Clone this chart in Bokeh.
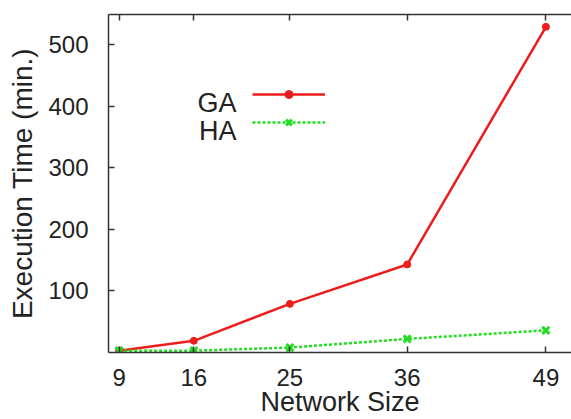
from bokeh.plotting import figure
from bokeh.models import (Range1d, FixedTicker, LinearAxis, Legend, LegendItem, Label)
from bokeh.embed import file_html
from bokeh.resources import INLINE

# ---- data ----
network_size = [9, 16, 25, 36, 49]
ga_time = [3, 19, 79, 143, 529]
ha_time = [3, 3, 8, 22, 36]
x_ticks = [9, 16, 25, 36, 49]
y_ticks = [100, 200, 300, 400, 500]
series_names = ["GA", "HA"]
x_title = "Network Size"
y_title = "Execution Time (min.)"

FONT = "Liberation Sans"
TXT = "#222222"
RED = "#ee1c1c"
GREEN = "#22dd22"

p = figure(width=571, height=419, output_backend="svg", toolbar_location=None,
           x_range=Range1d(8, 51.4), y_range=Range1d(0, 549),
           x_axis_location=None, y_axis_location=None,
           min_border_left=108, min_border_right=0, min_border_top=14, min_border_bottom=67)
p.outline_line_color = None
p.xgrid.visible = False
p.ygrid.visible = False
p.background_fill_color = "white"
p.border_fill_color = "white"

def style_axis(ax):
    ax.axis_line_color = "#333333"
    ax.axis_line_width = 1.5
    ax.major_tick_line_color = "#333333"
    ax.major_tick_line_width = 1.5
    ax.major_tick_in = 6
    ax.major_tick_out = 0
    ax.minor_tick_line_color = None
    ax.major_label_text_font = FONT
    ax.major_label_text_color = TXT
    ax.axis_label_text_font = FONT
    ax.axis_label_text_color = TXT
    ax.axis_label_text_font_style = "normal"

# bottom axis
xb = LinearAxis(ticker=FixedTicker(ticks=x_ticks), axis_label=x_title)
style_axis(xb)
xb.major_label_text_font_size = "24px"
xb.major_label_standoff = 16
xb.axis_label_text_font_size = "27px"
xb.axis_label_standoff = -2
p.add_layout(xb, "below")

# top mirror axis (ticks only, labels not painted)
xt = LinearAxis(ticker=FixedTicker(ticks=x_ticks))
style_axis(xt)
xt.major_label_text_font_size = "2px"
xt.major_label_text_color = None
xt.major_label_standoff = 0
p.add_layout(xt, "above")

# left axis
yl = LinearAxis(ticker=FixedTicker(ticks=y_ticks), axis_label=y_title)
style_axis(yl)
yl.major_label_text_font_size = "24px"
yl.major_label_standoff = 20
yl.axis_label_text_font_size = "28px"
yl.axis_label_standoff = 7
p.add_layout(yl, "left")

r_ga = p.line(network_size, ga_time, line_color=RED, line_width=2.5)
m_ga = p.scatter(network_size, ga_time, marker="circle", size=7, fill_color=RED, line_color=RED)
r_ha = p.line(network_size, ha_time, line_color=GREEN, line_width=2.5, line_dash="3 2")
m_ha = p.scatter(network_size, ha_time, marker="x", size=10, line_color=GREEN, line_width=3)

# legend: glyphs only (text drawn to their left as in the original)
legend = Legend(items=[LegendItem(label=" ", renderers=[r_ga, m_ga]),
                       LegendItem(label=" ", renderers=[r_ha, m_ha])],
                location=(144, 220), orientation="vertical",
                glyph_width=73, glyph_height=20, label_height=20, label_width=1,
                label_standoff=0, spacing=8, padding=0, margin=0,
                border_line_color=None, background_fill_alpha=0,
                label_text_font_size="13px", label_text_color=None)
p.add_layout(legend, "center")

for name, ybase in zip(series_names, [250, 222]):
    p.add_layout(Label(x=128, y=ybase, x_units="screen", y_units="screen", text=name,
                       text_align="right", text_baseline="alphabetic",
                       text_font=FONT, text_font_size="27px", text_color=TXT))

open("out.html", "w").write(file_html(p, INLINE))
